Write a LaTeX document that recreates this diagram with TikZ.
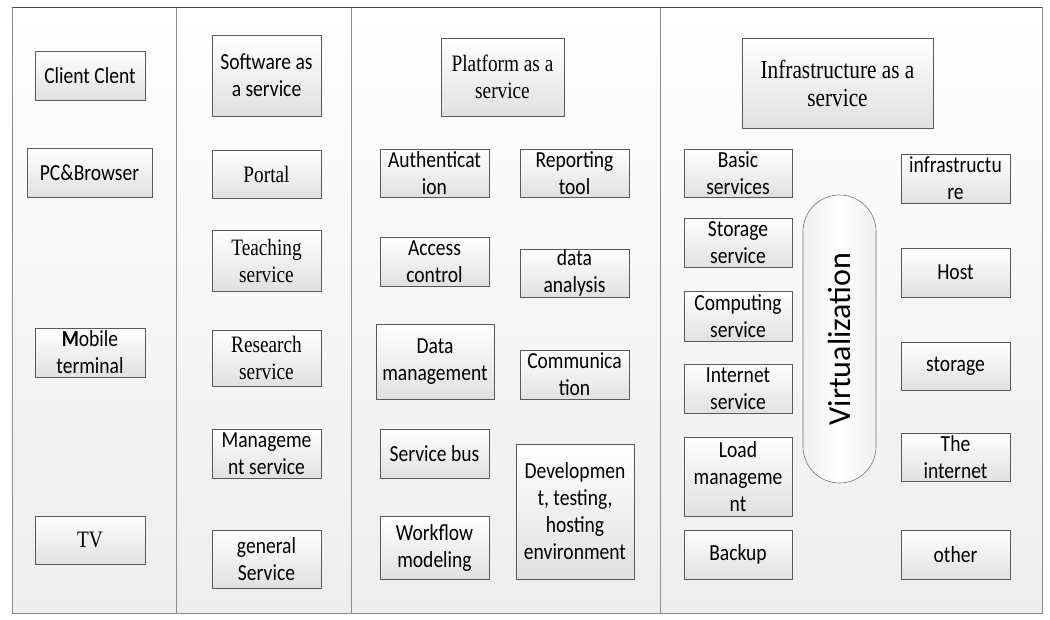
\documentclass[tikz,border=0pt]{standalone}
\usepackage{fontspec}
\setmainfont{Liberation Serif}[FakeStretch=0.82]
\newfontfamily\sansf{Carlito}[FakeStretch=0.85]
\newfontfamily\virtf{Carlito}
\begin{document}
\begin{tikzpicture}[x=1pt,y=-1pt,
  panel/.style={draw=black!45, line width=0.8pt, top color=white, bottom color=black!7},
  bx/.style={draw=black!65, line width=0.8pt, top color=white, bottom color=black!12,
    inner sep=0pt, align=center, font=\sansf\fontsize{23}{27}\selectfont},
  sr/.style={bx, font=\rmfamily\fontsize{23.5}{27}\selectfont},
  pill/.style={draw=black!55, line width=0.6pt, left color=black!6, right color=black!6, middle color=white}]
\useasboundingbox (0,0) rectangle (1050,619);
\fill[white] (0,0) rectangle (1050,619);
% panels
\path[panel] (12,7) rectangle (176,613);
\path[panel] (176,7) rectangle (351,613);
\path[panel] (351,7) rectangle (660,613);
\path[panel] (660,7) rectangle (1042,613);
\draw[black!70, line width=0.8pt] (12,7) -- (1042,7);
% column 1
\node[bx, minimum width=110pt, minimum height=49pt] (client) at (90,75.5) {Client Clent};
\node[bx, minimum width=125pt, minimum height=49pt] (pc) at (89.5,172.5) {PC\&Browser};
\node[bx, minimum width=110pt, minimum height=49pt] (mobile) at (90,352.5) {\textbf{M}obile\\terminal};
\node[sr, minimum width=110pt, minimum height=48pt] (tv) at (90,540) {TV};
% column 2
\node[bx, minimum width=109pt, minimum height=81pt] (saas) at (266.5,75.5) {Software as\\a service};
\node[sr, minimum width=109pt, minimum height=48pt] (portal) at (266.5,174) {Portal};
\node[sr, minimum width=109pt, minimum height=61pt] (teach) at (266.5,260.5) {Teaching\\service};
\node[sr, minimum width=109pt, minimum height=56pt] (research) at (266.5,358) {Research\\service};
\node[bx, minimum width=109pt, minimum height=49pt] (mgmt) at (266.5,453.5) {Manageme\\nt service};
\node[bx, minimum width=109pt, minimum height=58pt] (general) at (266.5,559) {general\\Service};
% column 3
\node[sr, minimum width=123pt, minimum height=78pt] (paas) at (502.5,77) {Platform as a\\service};
\node[bx, minimum width=109pt, minimum height=48pt] (auth) at (434.5,173) {Authenticat\\ion};
\node[bx, minimum width=109pt, minimum height=48pt] (report) at (574.5,173) {Reporting\\tool};
\node[bx, minimum width=109pt, minimum height=49pt] (access) at (434.5,261.5) {Access\\control};
\node[bx, minimum width=109pt, minimum height=48pt] (dataan) at (574.5,273) {data\\analysis};
\node[bx, minimum width=118pt, minimum height=75pt] (datamg) at (435,361.5) {Data\\management};
\node[bx, minimum width=109pt, minimum height=49pt] (comm) at (574.5,374.5) {Communica\\tion};
\node[bx, minimum width=109pt, minimum height=49pt] (bus) at (434.5,453.5) {Service bus};
\node[bx, minimum width=118pt, minimum height=135pt] (dev) at (575,511.5) {Developmen\\t, testing,\\hosting\\environment};
\node[bx, minimum width=109pt, minimum height=63pt] (workflow) at (434.5,547.5) {Workflow\\modeling};
% column 4
\node[sr, minimum width=191pt, minimum height=90pt, font=\rmfamily\fontsize{26}{28}\selectfont] (iaas) at (837.5,83) {Infrastructure as a\\service};
\node[bx, minimum width=108pt, minimum height=48pt] (basic) at (738,173) {Basic\\services};
\node[bx, minimum width=108pt, minimum height=49pt] (storsvc) at (738,242.5) {Storage\\service};
\node[bx, minimum width=108pt, minimum height=50pt] (comp) at (738,316) {Computing\\service};
\node[bx, minimum width=108pt, minimum height=49pt] (inet) at (738,388.5) {Internet\\service};
\node[bx, minimum width=108pt, minimum height=79pt] (load) at (738,476.5) {Load\\manageme\\nt};
\node[bx, minimum width=108pt, minimum height=49pt] (backup) at (738,554.5) {Backup};
\node[bx, minimum width=109pt, minimum height=49pt] (infra) at (955.5,178.5) {infrastructu\\re};
\node[bx, minimum width=109pt, minimum height=49pt] (host) at (955.5,272.5) {Host};
\node[bx, minimum width=109pt, minimum height=48pt] (storage) at (955.5,366) {storage};
\node[bx, minimum width=109pt, minimum height=48pt] (theinet) at (955.5,457) {The\\internet};
\node[bx, minimum width=109pt, minimum height=49pt] (other) at (955.5,554.5) {other};
\node[pill, rectangle, rounded corners=36.5pt, minimum width=73pt, minimum height=288pt, inner sep=0pt] (virt) at (839.5,339) {};
\node[rotate=90, inner sep=0pt, font=\virtf\fontsize{32}{36}\selectfont] (virtlbl) at (virt.center) {Virtualization};
\end{tikzpicture}
\end{document}
